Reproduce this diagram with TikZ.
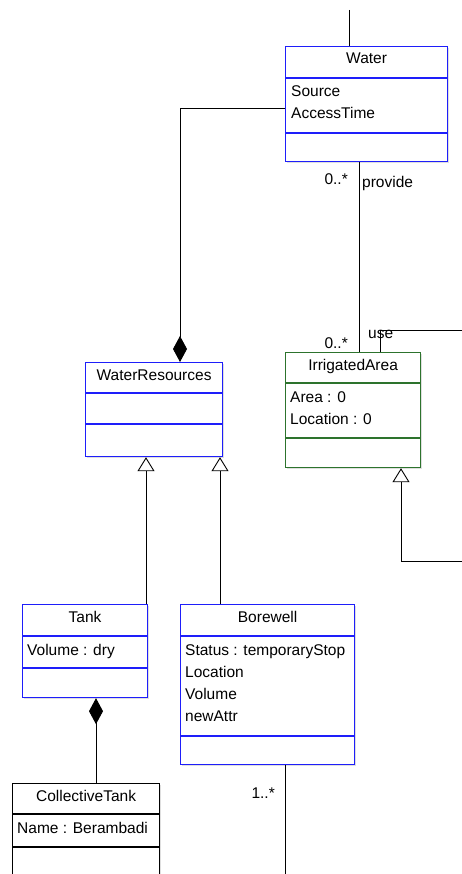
\documentclass[tikz,border=0pt]{standalone}
\usepackage{fontspec}
\setmainfont{Liberation Sans}
\usetikzlibrary{arrows.meta,calc,shadows}

\definecolor{umlblue}{RGB}{30,30,250}
\definecolor{umlgreen}{RGB}{45,115,45}

\tikzset{
  umlclass/.style={draw=#1,line width=1.2pt,fill=white,anchor=north west,inner sep=0pt,
    drop shadow={shadow xshift=1.5pt,shadow yshift=-1.5pt,opacity=0.25}},
  umltext/.style={font=\fontsize{15.5}{18}\selectfont,inner sep=0pt,anchor=base},
  umlattr/.style={umltext,anchor=base west},
  assoc/.style={line width=0.9pt},
  compos/.style={assoc,-{Diamond[length=26pt,width=14pt]}},
  inherit/.style={assoc,-{Triangle[open,length=14pt,width=17pt,fill=white]}}
}

\begin{document}
\begin{tikzpicture}[x=1pt,y=-1pt]
  \clip (0,0) rectangle (462,874);

  % class boxes
  \node[umlclass=umlblue,minimum width=162pt,minimum height=115pt] (water) at (285,46) {};
  \node[umlclass=umlgreen,minimum width=135pt,minimum height=115pt] (irr) at (285,352) {};
  \node[umlclass=umlblue,minimum width=137pt,minimum height=94pt] (wres) at (85,362) {};
  \node[umlclass=umlblue,minimum width=125pt,minimum height=93pt] (tank) at (22,604) {};
  \node[umlclass=umlblue,minimum width=174pt,minimum height=160pt] (bore) at (180,604) {};
  \node[umlclass=black,minimum width=147pt,minimum height=130pt] (ctank) at (12,783) {};

  % compartments
  \draw[umlblue,line width=1.2pt] ($(water.north west)+(0,32)$) -- ++(162,0)
    ($(water.north west)+(0,87)$) -- ++(162,0);
  \draw[umlgreen,line width=1.2pt] ($(irr.north west)+(0,31)$) -- ++(135,0)
    ($(irr.north west)+(0,86)$) -- ++(135,0);
  \draw[umlblue,line width=1.2pt] ($(wres.north west)+(0,31)$) -- ++(137,0)
    ($(wres.north west)+(0,62)$) -- ++(137,0);
  \draw[umlblue,line width=1.2pt] ($(tank.north west)+(0,32)$) -- ++(125,0)
    ($(tank.north west)+(0,64)$) -- ++(125,0);
  \draw[umlblue,line width=1.2pt] ($(bore.north west)+(0,32)$) -- ++(174,0)
    ($(bore.north west)+(0,132)$) -- ++(174,0);
  \draw[black,line width=1.2pt] ($(ctank.north west)+(0,31)$) -- ++(147,0)
    ($(ctank.north west)+(0,64)$) -- ++(147,0);

  % names and attributes
  \node[umltext] (water-t) at ($(water.north)+(0,18)$) {Water};
  \node[umlattr] (water-a1) at ($(water.north west)+(6,51)$) {Source};
  \node[umlattr] (water-a2) at ($(water.north west)+(6,73)$) {AccessTime};

  \node[umltext] (irr-t) at ($(irr.north)+(0,18)$) {IrrigatedArea};
  \node[umlattr] (irr-a1) at ($(irr.north west)+(5,50)$) {Area : 0};
  \node[umlattr] (irr-a2) at ($(irr.north west)+(5,72)$) {Location : 0};

  \node[umltext] (wres-t) at ($(wres.north)+(0,18)$) {WaterResources};

  \node[umltext] (tank-t) at ($(tank.north)+(0,18)$) {Tank};
  \node[umlattr] (tank-a1) at ($(tank.north west)+(5,51)$) {Volume : dry};

  \node[umltext] (bore-t) at ($(bore.north)+(0,18)$) {Borewell};
  \node[umlattr] (bore-a1) at ($(bore.north west)+(5,51)$) {Status : temporaryStop};
  \node[umlattr] (bore-a2) at ($(bore.north west)+(5,73)$) {Location};
  \node[umlattr] (bore-a3) at ($(bore.north west)+(5,95)$) {Volume};
  \node[umlattr] (bore-a4) at ($(bore.north west)+(5,117)$) {newAttr};

  \node[umltext] (ctank-t) at ($(ctank.north)+(0,18)$) {CollectiveTank};
  \node[umlattr] (ctank-a1) at ($(ctank.north west)+(5,50)$) {Name : Berambadi};

  % relations
  \coordinate (wtop) at (349,10);
  \draw[assoc] (wtop) -- (wtop |- water.north);
  \draw[compos] ($(water.north west)+(0,62)$) -| ($(wres.north west)+(95,0)$);
  \draw[assoc] ($(water.south west)+(74,0)$) -- ($(irr.north west)+(74,0)$);
  \coordinate (useend) at (462,330);
  \draw[assoc] ($(irr.north west)+(95,0)$) |- (useend);
  \coordinate (irrgen) at (462,561);
  \draw[inherit] (irrgen) -| ($(irr.south west)+(116,0)$);
  \draw[inherit] ($(tank.north west)+(124,0)$) -- ($(wres.south west)+(61,0)$);
  \draw[inherit] ($(bore.north west)+(40,0)$) -- ($(wres.south west)+(135,0)$);
  \draw[compos] ($(ctank.north west)+(84,0)$) -- ($(tank.south west)+(74,0)$);
  \coordinate (boreend) at (285,874);
  \draw[assoc] ($(bore.south west)+(105,0)$) -- (boreend);

  % multiplicities and roles
  \node[umltext,anchor=base east] (m1) at (348,185) {0..*};
  \node[umltext,anchor=base west] (provide) at (362,188) {provide};
  \node[umltext,anchor=base east] (m2) at (348,348) {0..*};
  \node[umltext,anchor=base west] (use) at (368,338) {use};
  \node[umltext,anchor=base east] (m3) at (275,798) {1..*};
\end{tikzpicture}
\end{document}
